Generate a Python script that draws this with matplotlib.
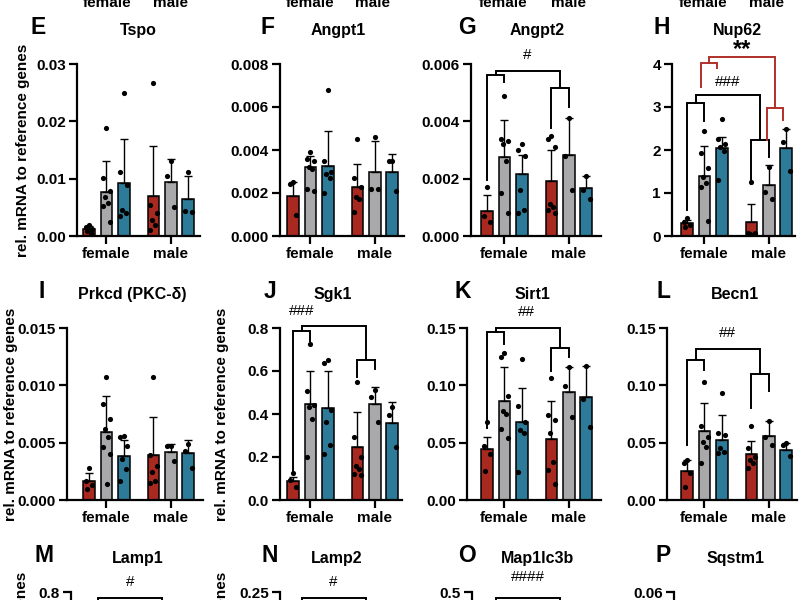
import matplotlib.pyplot as plt
import numpy as np

plt.rcParams.update({'font.family': ['Liberation Sans', 'DejaVu Sans'],
                     'font.weight': 'bold', 'font.size': 11})

# order in every list: female (ctrl, gray, blue), male (ctrl, gray, blue)
groups = ['female', 'male']

tspo_mean = [0.0012, 0.0077, 0.0092, 0.0069, 0.0095, 0.0065]
tspo_sd = [0.0006, 0.0054, 0.0077, 0.0088, 0.0040, 0.0040]
tspo_pts = [[0.0019, 0.0016, 0.0012, 0.0008, 0.0005],
            [0.0188, 0.0102, 0.0078, 0.0068, 0.0058, 0.0052, 0.0025],
            [0.0249, 0.0112, 0.0089, 0.0045, 0.0040, 0.0035],
            [0.0266, 0.0054, 0.0040, 0.0028, 0.0019, 0.0010],
            [0.0130, 0.0105, 0.0051],
            [0.0112, 0.0044, 0.0042]]

angpt1_mean = [0.00184, 0.0032, 0.00327, 0.00226, 0.0030, 0.0030]
angpt1_sd = [0.00066, 0.0005, 0.0016, 0.0011, 0.0014, 0.0008]
angpt1_pts = [[0.0025, 0.0024, 0.0010],
              [0.0039, 0.0036, 0.0035, 0.0032, 0.0031, 0.0022, 0.0021],
              [0.0068, 0.0035, 0.0030, 0.0029, 0.0027, 0.0020],
              [0.0045, 0.0027, 0.0023, 0.0018, 0.0017, 0.0011],
              [0.0046, 0.0022, 0.0022],
              [0.0035, 0.0035, 0.0021]]

angpt2_mean = [0.00088, 0.00274, 0.00215, 0.00192, 0.00283, 0.00166]
angpt2_sd = [0.00055, 0.00131, 0.00068, 0.00108, 0.00127, 0.00044]
angpt2_pts = [[0.0017, 0.0007, 0.0005],
              [0.0049, 0.0034, 0.0033, 0.0032, 0.0026, 0.0015, 0.0008],
              [0.0032, 0.0030, 0.0028, 0.0016, 0.0009, 0.0008],
              [0.0035, 0.0034, 0.0031, 0.0011, 0.0010, 0.0009, 0.0008],
              [0.0041, 0.0028, 0.0016],
              [0.0021, 0.0016, 0.0013]]

nup62_mean = [0.31, 1.40, 2.05, 0.32, 1.19, 2.04]
nup62_sd = [0.06, 0.69, 0.26, 0.42, 0.46, 0.46]
nup62_pts = [[0.41, 0.33, 0.26, 0.22],
             [2.45, 1.92, 1.57, 1.38, 1.24, 1.15, 0.36],
             [2.72, 2.25, 2.14, 2.06, 1.98, 1.30],
             [1.26, 0.08, 0.06, 0.05],
             [1.61, 1.03, 0.85],
             [2.50, 2.19, 1.51]]

prkcd_mean = [0.00169, 0.0059, 0.0038, 0.0039, 0.0042, 0.0041]
prkcd_sd = [0.0007, 0.0032, 0.0014, 0.0033, 0.0007, 0.0011]
prkcd_pts = [[0.0028, 0.0017, 0.0013, 0.0010],
             [0.0107, 0.0084, 0.0071, 0.0062, 0.0055, 0.0046, 0.0040, 0.0014],
             [0.0056, 0.0055, 0.0047, 0.0036, 0.0027, 0.0017],
             [0.0107, 0.0039, 0.0030, 0.0024, 0.0017, 0.0015],
             [0.0047, 0.0047, 0.0034],
             [0.0049, 0.0043, 0.0028]]

sgk1_mean = [0.090, 0.446, 0.430, 0.246, 0.446, 0.356]
sgk1_sd = [0.016, 0.154, 0.170, 0.164, 0.081, 0.101]
sgk1_pts = [[0.125, 0.094, 0.059],
            [0.727, 0.507, 0.441, 0.434, 0.379, 0.200],
            [0.652, 0.636, 0.418, 0.363, 0.254, 0.215],
            [0.550, 0.293, 0.200, 0.160, 0.145, 0.120, 0.114],
            [0.511, 0.480, 0.363],
            [0.434, 0.395, 0.246]]

sirt1_mean = [0.0446, 0.0865, 0.0676, 0.0533, 0.094, 0.0897]
sirt1_sd = [0.0107, 0.0295, 0.030, 0.0327, 0.022, 0.0273]
sirt1_pts = [[0.0684, 0.0475, 0.0402, 0.0253],
             [0.128, 0.125, 0.091, 0.078, 0.075, 0.062, 0.0545],
             [0.123, 0.082, 0.068, 0.061, 0.058, 0.024],
             [0.106, 0.074, 0.070, 0.058, 0.033, 0.026, 0.0137],
             [0.116, 0.0996, 0.072],
             [0.117, 0.088, 0.064]]

becn1_mean = [0.0256, 0.0606, 0.0524, 0.0402, 0.0559, 0.0437]
becn1_sd = [0.0094, 0.0244, 0.0219, 0.0116, 0.0126, 0.0058]
becn1_pts = [[0.035, 0.0326, 0.0233, 0.0117],
             [0.1028, 0.0647, 0.0553, 0.051, 0.0466, 0.0326],
             [0.093, 0.0583, 0.0568, 0.0451, 0.0417, 0.041],
             [0.0641, 0.0451, 0.0379, 0.035, 0.032, 0.0277],
             [0.0685, 0.0553, 0.048],
             [0.0495, 0.048, 0.0384]]

W, H = 800, 600
fig = plt.figure(figsize=(8, 6), dpi=100)

xpos = np.array([0, 1, 2, 3.7, 4.7, 5.7])
bar_colors = ['#a8291f', '#a9a9ac', '#2d7b98'] * 2
sig_red = '#b0302a'
spread = [0.0, -0.2, 0.2, -0.1, 0.1, -0.22, 0.22, 0.05]
UNIT = 17.4  # px per x unit


def ftext(x, y, s, **kw):
    fig.text(x / W, 1 - y / H, s, **kw)


def make_axes(left, right, first_bar, top, ymax, step, fmt):
    bottom = top + 172
    ax = fig.add_axes([left / W, 1 - bottom / H, (right - left) / W, (bottom - top) / H])
    ax.set_xlim(-(first_bar - left) / UNIT, (right - first_bar) / UNIT)
    ax.set_ylim(0, ymax)
    ticks = np.arange(0, ymax + step / 2, step)
    ax.set_yticks(ticks)
    ax.set_yticklabels([fmt.format(t) for t in ticks])
    ax.set_xticks([1, 4.7])
    ax.set_xticklabels(groups)
    for s in ['top', 'right']:
        ax.spines[s].set_visible(False)
    for s in ['left', 'bottom']:
        ax.spines[s].set_linewidth(1.6)
    ax.tick_params(width=1.6, length=6, labelsize=11, pad=2)
    ax.patch.set_alpha(0)
    return ax


def draw_bars(ax, means, sds, pts):
    ax.bar(xpos, means, width=0.66, color=bar_colors, edgecolor='black', linewidth=1.1, zorder=2)
    ax.errorbar(xpos, means, yerr=[np.zeros(len(sds)), sds], fmt='none', ecolor='black',
                elinewidth=1, capsize=3, capthick=1, zorder=3)
    for x, p in zip(xpos, pts):
        offs = np.array([spread[i % len(spread)] for i in range(len(p))])
        ax.scatter(x + offs, p, s=14, color='black', linewidths=0, zorder=4, clip_on=False)


def bracket(ax, x1, x2, ytop, y1, y2, color='black'):
    ax.plot([x1, x1, x2, x2], [y1, ytop, ytop, y2], color=color, lw=1.4,
            clip_on=False, zorder=5, solid_joinstyle='miter')


def nested(ax, fy, fl, fr, my, ml, mr, cy, xs=(0, 1, 3.7, 4.7), color='black'):
    bracket(ax, xs[0], xs[1], fy, fl, fr, color)
    bracket(ax, xs[2], xs[3], my, ml, mr, color)
    bracket(ax, (xs[0] + xs[1]) / 2, (xs[2] + xs[3]) / 2, cy, fy, my, color)


def sig(ax, x, y, s, size=11, weight='normal', color='black'):
    ax.text(x, y, s, ha='center', va='center', fontsize=size, fontweight=weight,
            color=color, clip_on=False, zorder=6)


def heading(letter, lx, title, tx, top):
    ftext(lx, top - 30, letter, fontsize=16.5, ha='center', va='baseline')
    ftext(tx, top - 29, title, fontsize=11.5, ha='center', va='baseline')


ylab = 'rel. mRNA to reference genes'

# ---------- row E-H ----------
top = 64
ax = make_axes(77, 200, 89, top, 0.03, 0.01, '{:.2f}')
draw_bars(ax, tspo_mean, tspo_sd, tspo_pts)
heading('E', 38, 'Tspo', 138, top)
ftext(23, top + 86, ylab, rotation=90, ha='center', va='center', fontsize=11)

ax = make_axes(280, 404, 293, top, 0.008, 0.002, '{:.3f}')
draw_bars(ax, angpt1_mean, angpt1_sd, angpt1_pts)
heading('F', 268, 'Angpt1', 338, top)

ax = make_axes(471, 601, 487, top, 0.006, 0.002, '{:.3f}')
draw_bars(ax, angpt2_mean, angpt2_sd, angpt2_pts)
nested(ax, 0.00562, 0.00195, 0.00538, 0.00515, 0.00376, 0.00451, 0.00577)
sig(ax, 2.3, 0.0063, '#')
heading('G', 467, 'Angpt2', 537, top)

ax = make_axes(672, 795, 687, top, 4, 1, '{:.0f}')
draw_bars(ax, nup62_mean, nup62_sd, nup62_pts)
nested(ax, 3.09, 0.60, 2.68, 2.23, 1.22, 1.84, 3.28)
sig(ax, 2.32, 3.59, '###')
nested(ax, 4.03, 3.47, 3.90, 2.97, 2.23, 2.70, 4.17, xs=(0.8, 1.75, 4.58, 5.53), color=sig_red)
sig(ax, 3.17, 4.34, '**', size=17, weight='bold')
heading('H', 662, 'Nup62', 737, top)

# ---------- row I-L ----------
top = 328
ax = make_axes(67, 203, 89, top, 0.015, 0.005, '{:.3f}')
draw_bars(ax, prkcd_mean, prkcd_sd, prkcd_pts)
heading('I', 42, 'Prkcd (PKC-δ)', 132, top)
ftext(11, top + 86, ylab, rotation=90, ha='center', va='center', fontsize=11)

ax = make_axes(280, 402, 293, top, 0.8, 0.2, '{:.1f}')
draw_bars(ax, sgk1_mean, sgk1_sd, sgk1_pts)
nested(ax, 0.784, 0.122, 0.738, 0.652, 0.574, 0.608, 0.808)
sig(ax, 0.5, 0.878, '###')
heading('J', 270, 'Sgk1', 333, top)
ftext(222, top + 86, ylab, rotation=90, ha='center', va='center', fontsize=11)

ax = make_axes(467, 601, 487, top, 0.15, 0.05, '{:.2f}')
draw_bars(ax, sirt1_mean, sirt1_sd, sirt1_pts)
nested(ax, 0.1462, 0.0626, 0.1363, 0.1325, 0.1121, 0.1247, 0.150)
sig(ax, 2.25, 0.1637, '##')
heading('K', 463, 'Sirt1', 532, top)

ax = make_axes(667, 797, 687, top, 0.15, 0.05, '{:.2f}')
draw_bars(ax, becn1_mean, becn1_sd, becn1_pts)
nested(ax, 0.1223, 0.0481, 0.1136, 0.1098, 0.0801, 0.0947, 0.1319)
sig(ax, 2.3, 0.1456, '##')
heading('L', 664, 'Becn1', 735, top)

# ---------- row M-P (cut off at the bottom) ----------
top = 592
ax = make_axes(71, 203, 89, top, 0.8, 0.2, '{:.1f}')
bracket(ax, 0.5, 4.2, 0.772, 0.6, 0.6)
sig(ax, 2.36, 0.847, '#')
heading('M', 44, 'Lamp1', 138, top)
ftext(22, top + 86, ylab, rotation=90, ha='center', va='center', fontsize=11)

ax = make_axes(280, 402, 293, top, 0.25, 0.05, '{:.2f}')
bracket(ax, 0.5, 4.2, 0.2413, 0.2, 0.2)
sig(ax, 2.3, 0.2645, '#')
heading('N', 270, 'Lamp2', 337, top)
ftext(222, top + 86, ylab, rotation=90, ha='center', va='center', fontsize=11)

ax = make_axes(472, 601, 487, top, 0.5, 0.1, '{:.1f}')
bracket(ax, 0.5, 4.2, 0.4826, 0.4, 0.4)
sig(ax, 2.36, 0.5436, '####')
heading('O', 467, 'Map1lc3b', 537, top)

ax = make_axes(674, 797, 687, top, 0.06, 0.02, '{:.2f}')
heading('P', 663, 'Sqstm1', 736, top)

# x labels of the row above, cut off at the top edge
for xc, lab in zip([107, 170, 310, 373, 503, 568, 703, 767], groups * 4):
    ftext(xc, 7, lab, ha='center', va='baseline', fontsize=11)

fig.savefig('out.png', dpi=100)
